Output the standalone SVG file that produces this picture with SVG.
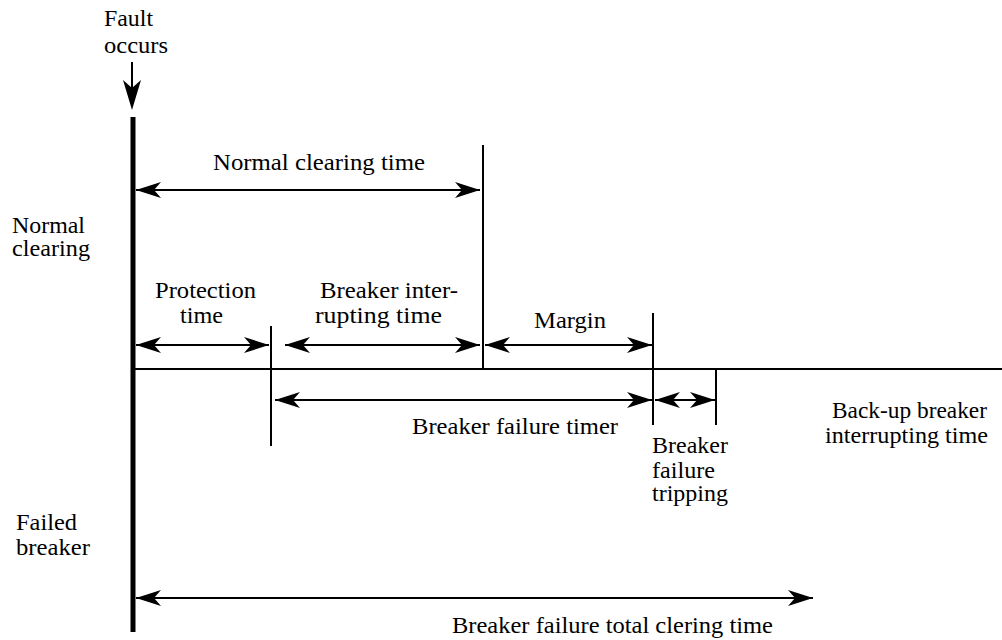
<svg xmlns="http://www.w3.org/2000/svg" width="1002" height="640" viewBox="0 0 1002 640">
<style>
.t{font-family:"Liberation Serif","Times New Roman","DejaVu Serif",serif;font-size:23px;fill:#000}
.ln{stroke:#000;stroke-width:2;fill:none}
.ar{stroke:#000;stroke-width:2;fill:none;marker-start:url(#ah);marker-end:url(#ah)}
</style>
<defs>
<marker id="ah" viewBox="0 0 25 16" refX="25" refY="8" markerWidth="25" markerHeight="16" markerUnits="userSpaceOnUse" orient="auto-start-reverse">
<path d="M0,0 L25,8 L0,16 L7,8 z" fill="#000"/>
</marker>
</defs>
<rect width="1002" height="640" fill="#fff"/>
<g id="axes">
<line x1="133" y1="117" x2="133" y2="632" stroke="#000" stroke-width="5"/>
<line class="ln" x1="133" y1="369" x2="1002" y2="369"/>
<line class="ln" x1="271" y1="326" x2="271" y2="446"/>
<line class="ln" x1="483" y1="145" x2="483" y2="369"/>
<line class="ln" x1="653" y1="313" x2="653" y2="425"/>
<line class="ln" x1="716" y1="370" x2="716" y2="425"/>
</g>
<g id="connectors">
<line x1="132" y1="62" x2="132" y2="100" stroke="#000" stroke-width="2"/>
<path d="M123,80 L132,110 L141,80 L132,88 z" fill="#000"/>
<line class="ar" x1="136" y1="190" x2="480" y2="190"/>
<line class="ar" x1="136" y1="345" x2="269" y2="345"/>
<line class="ar" x1="285" y1="345" x2="480" y2="345"/>
<line class="ar" x1="485" y1="345" x2="652" y2="345"/>
<line class="ar" x1="275" y1="400" x2="652" y2="400"/>
<line class="ar" x1="655" y1="400" x2="715" y2="400"/>
<line class="ar" x1="136" y1="598" x2="813" y2="598"/>
</g>
<g id="labels" class="t">
<text x="104" y="26" textLength="49" lengthAdjust="spacingAndGlyphs">Fault</text>
<text x="104" y="53" textLength="64" lengthAdjust="spacingAndGlyphs">occurs</text>
<text x="213" y="170" textLength="212" lengthAdjust="spacingAndGlyphs">Normal clearing time</text>
<text x="12" y="233" textLength="73" lengthAdjust="spacingAndGlyphs">Normal</text>
<text x="12" y="256" textLength="78" lengthAdjust="spacingAndGlyphs">clearing</text>
<text x="155" y="298" textLength="101" lengthAdjust="spacingAndGlyphs">Protection</text>
<text x="180" y="323" textLength="43" lengthAdjust="spacingAndGlyphs">time</text>
<text x="320" y="298" textLength="138" lengthAdjust="spacingAndGlyphs">Breaker inter-</text>
<text x="315" y="323" textLength="127" lengthAdjust="spacingAndGlyphs">rupting time</text>
<text x="534" y="328" textLength="72" lengthAdjust="spacingAndGlyphs">Margin</text>
<text x="412" y="434" textLength="206" lengthAdjust="spacingAndGlyphs">Breaker failure timer</text>
<text x="652" y="453" textLength="76" lengthAdjust="spacingAndGlyphs">Breaker</text>
<text x="652" y="478" textLength="63" lengthAdjust="spacingAndGlyphs">failure</text>
<text x="652" y="501" textLength="76" lengthAdjust="spacingAndGlyphs">tripping</text>
<text x="832" y="418" textLength="155" lengthAdjust="spacingAndGlyphs">Back-up breaker</text>
<text x="825" y="443" textLength="163" lengthAdjust="spacingAndGlyphs">interrupting time</text>
<text x="16" y="530" textLength="61" lengthAdjust="spacingAndGlyphs">Failed</text>
<text x="16" y="555" textLength="74" lengthAdjust="spacingAndGlyphs">breaker</text>
<text x="452" y="633" textLength="321" lengthAdjust="spacingAndGlyphs">Breaker failure total clering time</text>
</g>
</svg>
